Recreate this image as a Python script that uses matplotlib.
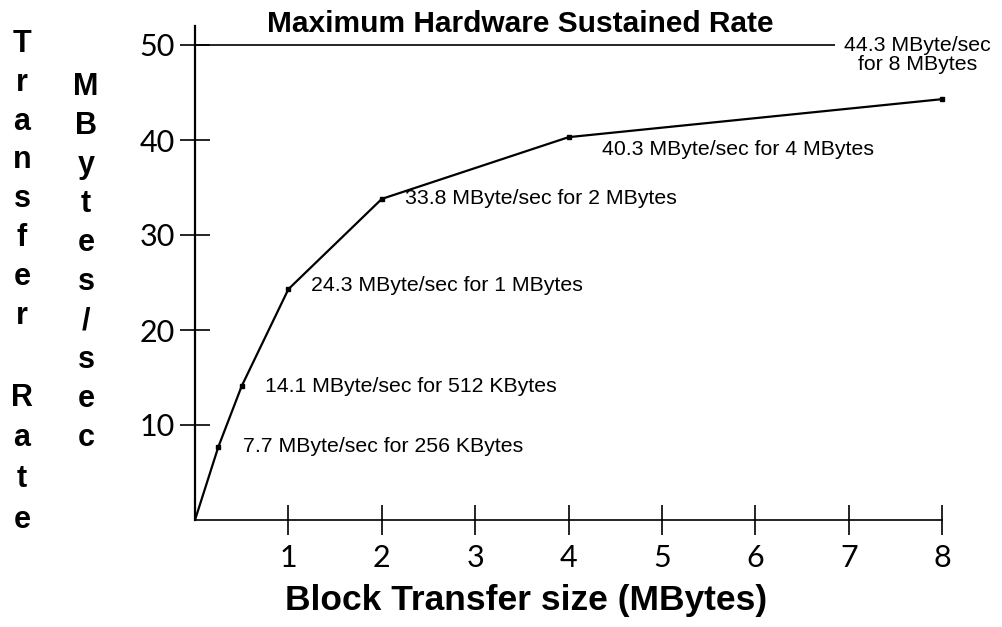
# Block transfer rate vs. block size

import matplotlib
matplotlib.use("Agg")
import matplotlib.pyplot as plt

# Measured rates (origin included, as drawn)
block_size = [0, 0.25, 0.5, 1, 2, 4, 8]          # MBytes
rate = [0, 7.7, 14.1, 24.3, 33.8, 40.3, 44.3]     # MByte/sec
point_labels = ["", "7.7 MByte/sec for 256 KBytes",
                "14.1 MByte/sec for 512 KBytes",
                "24.3 MByte/sec for 1 MBytes",
                "33.8 MByte/sec for 2 MBytes",
                "40.3 MByte/sec for 4 MBytes",
                "44.3 MByte/sec\nfor 8 MBytes"]
max_rate = 50
x_ticks = [1, 2, 3, 4, 5, 6, 7, 8]
y_ticks = [10, 20, 30, 40, 50]

# label offsets in pixels from each point
label_offsets = [None, (25, 0), (23, 0), (23, 4), (23, 0), (33, -12), (-25, 44)]

plt.rcParams["font.family"] = ["Liberation Sans", "DejaVu Sans"]

fig = plt.figure(figsize=(10.02, 6.27), dpi=100)
ax = fig.add_axes([195 / 1002, 107 / 627, 784.6 / 1002, 494 / 627])
ax.set_xlim(0, 8.4)
ax.set_ylim(0, 52)

ax.plot(block_size, rate, color="black", linewidth=1.6,
        marker="s", markersize=3.5, markevery=list(range(1, len(rate))))
ax.hlines(max_rate, 0, 6.85, color="black", linewidth=1.2)

for x, y, lab, off in zip(block_size, rate, point_labels, label_offsets):
    if not lab:
        continue
    ha = "center" if "\n" in lab else "left"
    ax.annotate(lab, (x, y), xytext=off, textcoords="offset pixels",
                ha=ha, va="center", fontsize=15.3, linespacing=1.0)

for side in ["top", "right"]:
    ax.spines[side].set_visible(False)
ax.spines["bottom"].set_bounds(0, 8)
ax.spines["left"].set_linewidth(1.6)
ax.spines["bottom"].set_linewidth(1.2)

ax.set_xticks(x_ticks)
ax.set_yticks(y_ticks)
ax.tick_params(axis="both", direction="inout", length=22, width=1.2)
ax.tick_params(axis="x", pad=6)
ax.tick_params(axis="y", pad=3.5)
for t in ax.get_xticklabels() + ax.get_yticklabels():
    t.set_family(["Lato", "DejaVu Sans"])
    t.set_fontsize(22)

fig.text(0.519, 0.962, "Maximum Hardware Sustained Rate", ha="center",
         va="center", fontsize=21.5, fontweight="bold")
fig.text(0.525, 0.042, "Block Transfer size (MBytes)", ha="center",
         va="center", fontsize=25.5, fontweight="bold")

# stacked vertical axis titles
for word, x0, y0, step in [("Transfer", 22, 44, 38.8), ("Rate", 22, 398, 40.5),
                           ("MBytes/sec", 86, 87, 39)]:
    for i, ch in enumerate(word):
        fig.text(x0 / 1002, 1 - (y0 + i * step) / 627, ch, ha="center",
                 va="center", fontsize=22, fontweight="heavy")

fig.savefig("out.png", dpi=100)
